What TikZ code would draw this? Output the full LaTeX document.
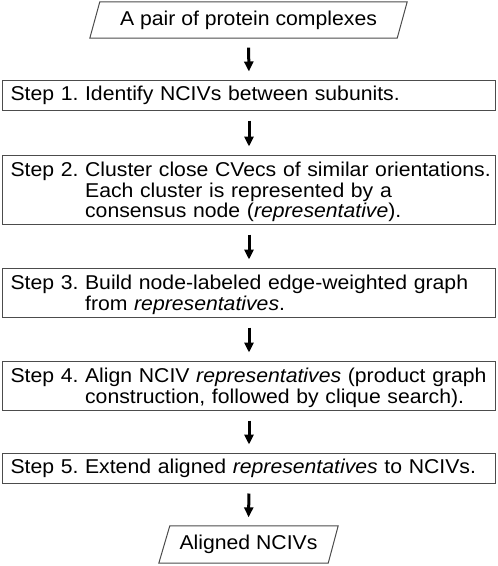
\documentclass[tikz,border=0pt]{standalone}
\usepackage{fontspec}
\setmainfont[FakeStretch=1.06]{Liberation Sans}
\usetikzlibrary{arrows.meta}
\begin{document}
\begin{tikzpicture}[x=1pt,y=-1pt,
  txt/.style={font=\fontsize{20}{20.5}\selectfont\frenchspacing},
  stepbox/.style={txt, draw=black!70, line width=1pt, rectangle, minimum width=493pt,
    text width=477pt, inner xsep=8pt, inner ysep=0pt, align=left, anchor=north west},
  multi/.style={text depth=0pt},
  iobox/.style={txt, inner sep=0pt},
  ioline/.style={draw=black!70, line width=1pt},
  flow/.style={line width=3pt, -{Triangle[width=9pt,length=10pt]}, shorten <=9.5pt, shorten >=8.5pt}]
\useasboundingbox (0,0) rectangle (498,566);
% input
\node[iobox, minimum width=317pt, minimum height=36pt] (in) at (248.5,20) {A pair of protein complexes};
\draw[ioline] (in.south west) -- ([xshift=10pt]in.north west) -- (in.north east) -- ([xshift=-10pt]in.south east) -- cycle;
% steps
\node[stepbox, minimum height=30pt] (s1) at (2,80) {\mbox{Step 1. Identify NCIVs between subunits.}};
\node[stepbox, multi, minimum height=69pt] (s2) at (2,155) {\begin{tabular}[b]{@{}l@{\ }l@{}}Step 2. & Cluster close CVecs of similar orientations.\\ & Each cluster is represented by a\\ & consensus node (\textit{representative}).\end{tabular}};
\node[stepbox, multi, minimum height=49pt] (s3) at (2,268) {\begin{tabular}[b]{@{}l@{\ }l@{}}Step 3. & Build node-labeled edge-weighted graph\\ & from \textit{representatives}.\end{tabular}};
\node[stepbox, multi, minimum height=49pt] (s4) at (2,361) {\begin{tabular}[b]{@{}l@{\ }l@{}}Step 4. & Align NCIV \textit{representatives} (product graph\\ & construction, followed by clique search).\end{tabular}};
\node[stepbox, minimum height=30pt] (s5) at (2,453) {\mbox{Step 5. Extend aligned \textit{representatives} to NCIVs.}};
% output
\node[iobox, minimum width=179pt, minimum height=37pt] (out) at (248.5,544.5) {Aligned NCIVs};
\draw[ioline] (out.south west) -- ([xshift=11pt]out.north west) -- (out.north east) -- ([xshift=-10pt]out.south east) -- cycle;
% arrows
\draw[flow] (in.south) -- (s1.north);
\draw[flow] (s1.south) -- (s2.north);
\draw[flow] (s2.south) -- (s3.north);
\draw[flow] (s3.south) -- (s4.north);
\draw[flow] (s4.south) -- (s5.north);
\draw[flow] (s5.south) -- (out.north);
\end{tikzpicture}
\end{document}
